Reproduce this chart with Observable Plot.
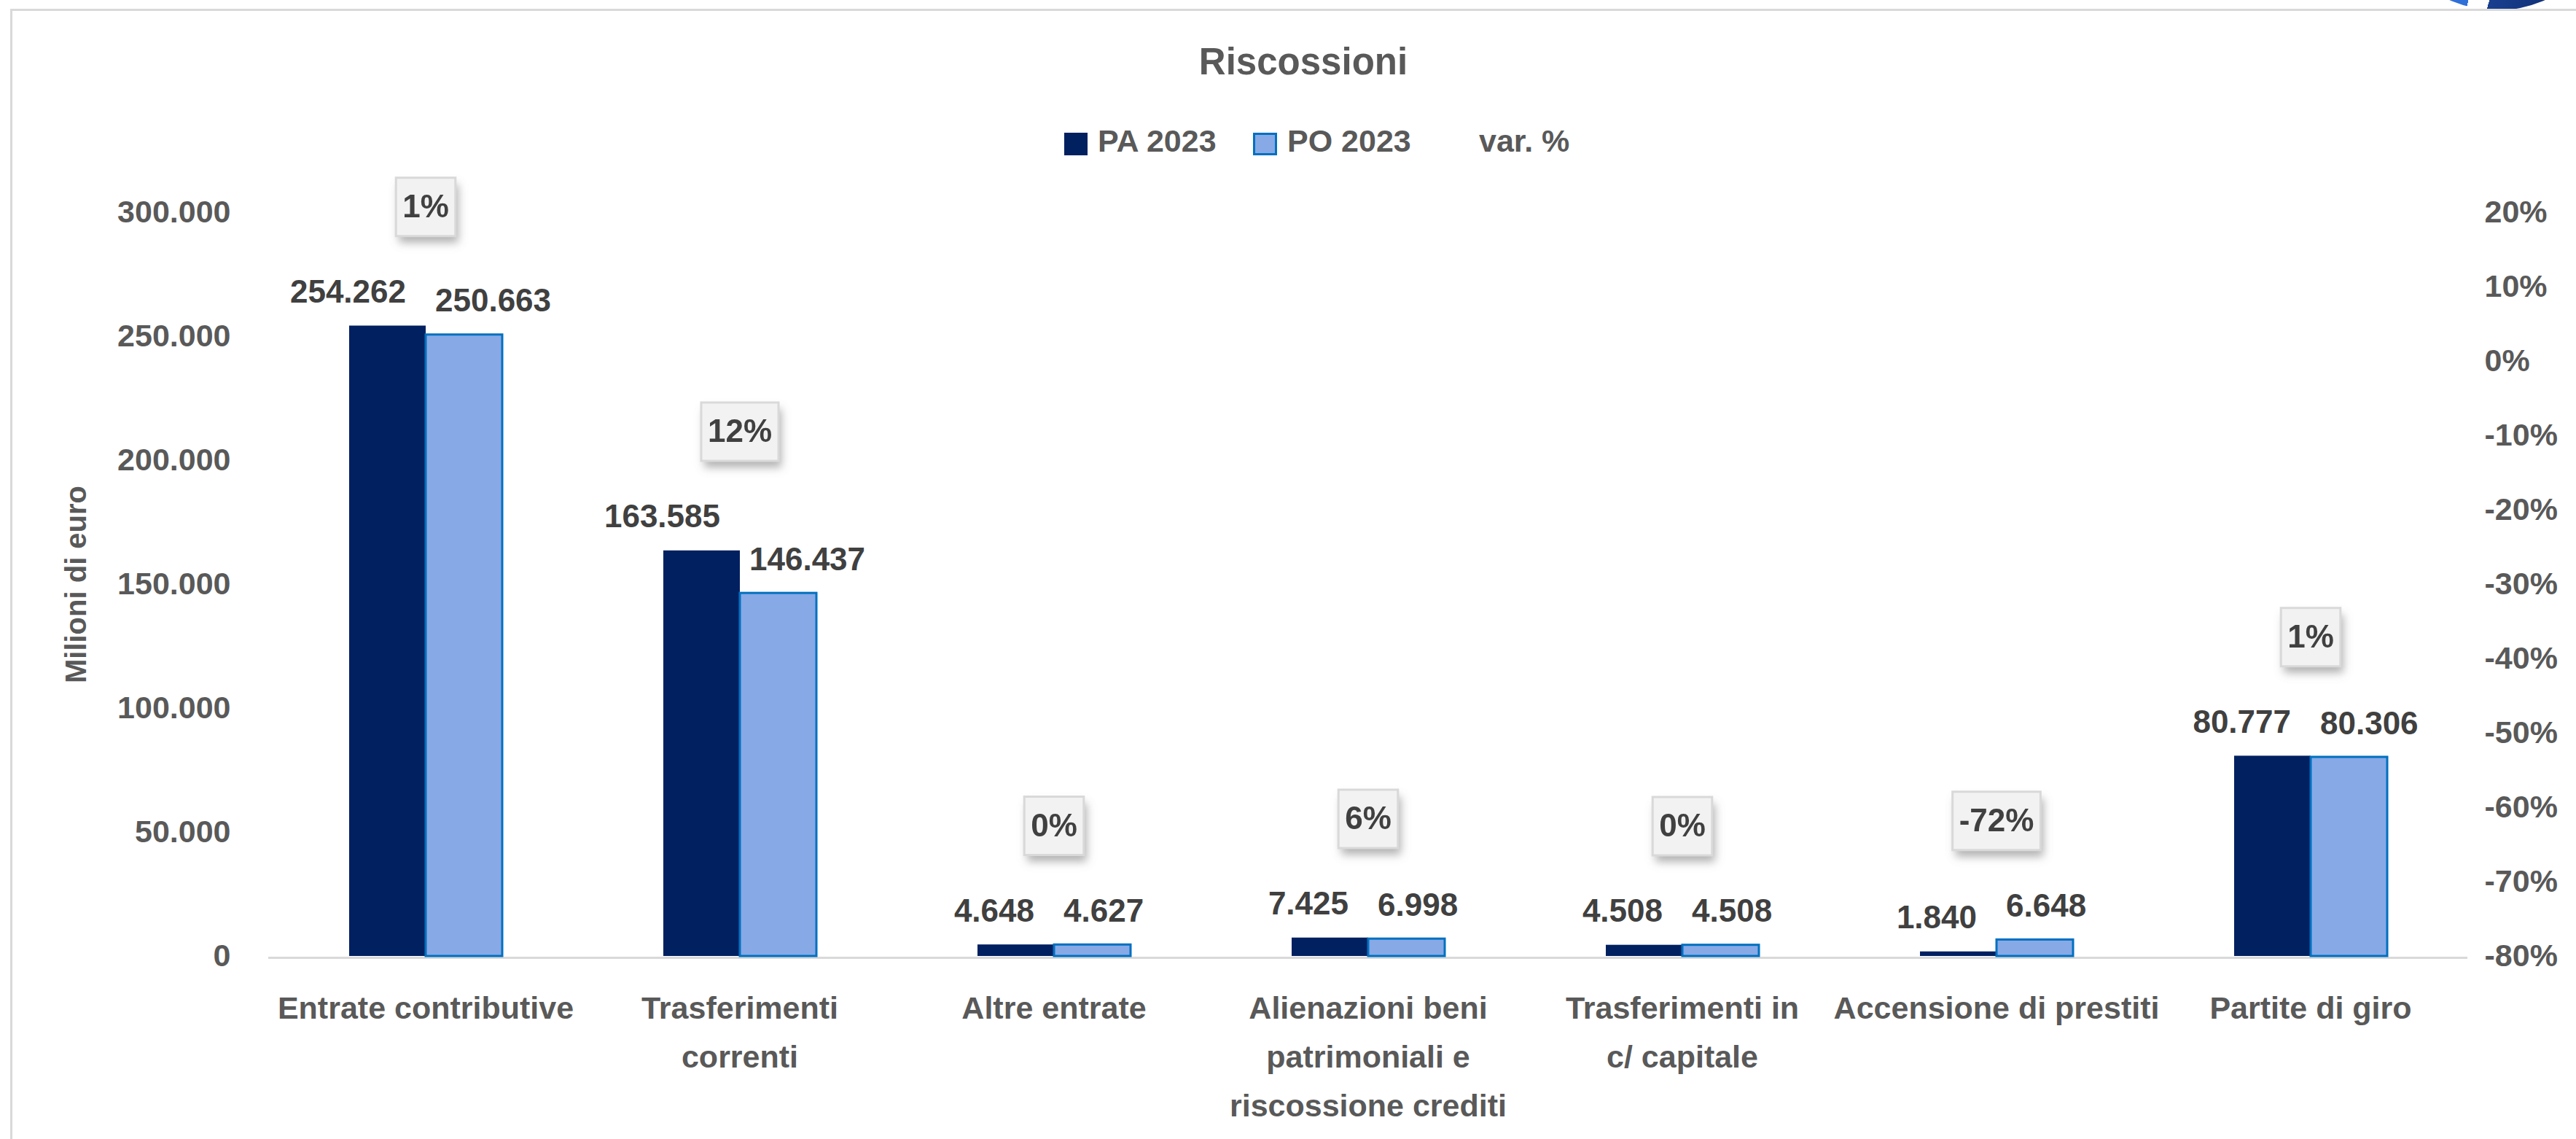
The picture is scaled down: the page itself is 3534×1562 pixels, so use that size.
<!DOCTYPE html>
<html>
<head>
<meta charset="utf-8">
<script src="https://cdn.jsdelivr.net/npm/d3@7"></script>
<script src="https://cdn.jsdelivr.net/npm/@observablehq/plot@0.6"></script>
<style>
  html, body { margin: 0; padding: 0; background: #fff; width: 3534px; height: 1562px; overflow: hidden;
    font-family: "Liberation Sans", Arial, sans-serif; }
  #logoclip { position: absolute; left: 3250px; top: 0; width: 300px; height: 13px; overflow: hidden; }
  #logo { position: absolute; left: 15px; top: -308px; width: 322px; height: 322px; border-radius: 50%;
    background: linear-gradient(105deg, #2F6FD8 0 50%, #fff 50% 57%, #1A3F8F 57%, #05205E 100%); }
  #frame { position: absolute; left: 14px; top: 12px; width: 3600px; height: 1700px;
    border-left: 3px solid #D9D9D9; border-top: 3px solid #D9D9D9; }
  #title { position: absolute; left: 21px; top: 59px; width: 3534px; text-align: center;
    font-size: 51px; line-height: 1; font-weight: bold; color: #595959; }
  .sw { position: absolute; box-sizing: border-box; }
  .lt { position: absolute; top: 172px; font-size: 43px; line-height: 1; font-weight: bold; color: #595959; white-space: nowrap; }
  #chart { position: absolute; left: 0; top: 230px; }
</style>
</head>
<body>
<div id="logoclip"><div id="logo"></div></div>
<div id="frame"></div>
<div id="title">Riscossioni</div>
<div class="sw" style="left:1460px;top:182px;width:32px;height:31px;background:#002060"></div>
<div class="lt" style="left:1506px">PA 2023</div>
<div class="sw" style="left:1719px;top:182px;width:33px;height:31px;background:#87A9E6;border:3px solid #0070C0"></div>
<div class="lt" style="left:1766px">PO 2023</div>
<div class="lt" style="left:2029px">var. %</div>
<div id="chart"></div>
<script>
// ---- Data (milioni di euro) ----
const categories = [
  "Entrate contributive",
  "Trasferimenti correnti",
  "Altre entrate",
  "Alienazioni beni patrimoniali e riscossione crediti",
  "Trasferimenti in c/ capitale",
  "Accensione di prestiti",
  "Partite di giro"
];
const tickLabels = [
  "Entrate contributive",
  "Trasferimenti\ncorrenti",
  "Altre entrate",
  "Alienazioni beni\npatrimoniali e\nriscossione crediti",
  "Trasferimenti in\nc/ capitale",
  "Accensione di prestiti",
  "Partite di giro"
];
const seriesNames = ["PA 2023", "PO 2023"];
const pa2023 = [254262, 163585, 4648, 7425, 4508, 1840, 80777];
const po2023 = [250663, 146437, 4627, 6998, 4508, 6648, 80306];
const varPct = [1, 12, 0, 6, 0, -72, 1];
const leftTicks = [0, 50000, 100000, 150000, 200000, 250000, 300000];
const rightTicks = [0.2, 0.1, 0, -0.1, -0.2, -0.3, -0.4, -0.5, -0.6, -0.7, -0.8];
const yTitle = "Milioni di euro";

// ---- Derived tables ----
const rows = categories.flatMap((c, i) => [
  {cat: c, series: seriesNames[0], value: pa2023[i]},
  {cat: c, series: seriesNames[1], value: po2023[i]}
]);
const varRows = categories.map((c, i) => ({cat: c, label: `${varPct[i]}%`, top: Math.max(pa2023[i], po2023[i])}));

const it = d3.formatLocale({decimal: ",", thousands: ".", grouping: [3], currency: ["", " €"]});
const fmt = it.format(",.0f");
const yMax = 300000;
const pctScale = d3.scaleLinear([-0.8, 0.2], [0, yMax]); // secondary axis
const colors = {"PA 2023": "#002060", "PO 2023": "#87A9E6"};
const FONT = "Liberation Sans, Arial, sans-serif";

// measure label widths so the callout boxes fit their text
const mctx = document.createElement("canvas").getContext("2d");
mctx.font = "bold 44px 'Liberation Sans', Arial, sans-serif";
const halfBox = s => (mctx.measureText(s).width + 18) / 2;
// rectangular symbol: half-width from the dot radius, fixed height
const boxSymbol = {
  draw(ctx, size) {
    const w = Math.sqrt(size / Math.PI), h = 40;
    ctx.moveTo(-w, -h); ctx.lineTo(w, -h); ctx.lineTo(w, h); ctx.lineTo(-w, h); ctx.closePath();
  }
};
const varY = d => d.top + 48000;

const chart = Plot.plot({
  width: 3534,
  height: 1332,
  marginLeft: 366,
  marginRight: 147,
  marginTop: 61,
  marginBottom: 251,
  style: {fontFamily: FONT, fontWeight: "bold", fontSize: "43px", color: "#595959", background: "transparent"},
  fx: {domain: categories, padding: 0, label: null},
  x: {domain: seriesNames, paddingInner: 0, paddingOuter: 1.036, axis: null},
  y: {domain: [0, yMax], label: null},
  r: {type: "linear", domain: [0, 1000], range: [0, 1000]},
  marks: [
    Plot.ruleY([0], {stroke: "#D9D9D9", strokeWidth: 3, dy: 2}),
    Plot.barY(rows, {
      fx: "cat", x: "series", y: "value",
      fill: d => colors[d.series],
      stroke: d => d.series === "PO 2023" ? "#0070C0" : "none",
      strokeWidth: 3
    }),
    // value labels PA (end-aligned near right of dark bar)
    Plot.text(rows.filter(d => d.series === "PA 2023"), {
      fx: "cat", x: "series", y: "value", text: d => fmt(d.value),
      textAnchor: "end", dx: 25, dy: -46,
      fill: "#404040", fontSize: 44, fontWeight: "bold"
    }),
    // value labels PO (start-aligned near left of light bar)
    Plot.text(rows.filter(d => d.series === "PO 2023"), {
      fx: "cat", x: "series", y: "value", text: d => fmt(d.value),
      textAnchor: "start", dx: -40, dy: -46,
      fill: "#404040", fontSize: 44, fontWeight: "bold"
    }),
    // var. % callouts: shadow, box, text
    Plot.dot(varRows, {
      fx: "cat", y: varY, r: d => halfBox(d.label), symbol: boxSymbol,
      fill: "#7F7F7F", fillOpacity: 0.6, stroke: "none", dx: 4, dy: 9,
      ariaDescription: "box-shadow"
    }),
    Plot.dot(varRows, {
      fx: "cat", y: varY, r: d => halfBox(d.label), symbol: boxSymbol,
      fill: "#F2F2F2", stroke: "#D9D9D9", strokeWidth: 3
    }),
    Plot.text(varRows, {
      fx: "cat", y: varY, text: "label",
      fill: "#404040", fontSize: 44, fontWeight: "bold"
    }),
    // axis title (left facet only)
    Plot.text([categories[0]], {
      fx: d => d, frameAnchor: "left", text: () => yTitle, rotate: -90, dx: -263,
      textAnchor: "middle", lineAnchor: "middle",
      fontSize: 40, fill: "#595959", fontWeight: "bold"
    }),
    Plot.axisY({
      anchor: "left", ticks: leftTicks, tickFormat: fmt, tickSize: 0, tickPadding: 52,
      label: null, fontSize: 43
    }),
    Plot.axisY({
      anchor: "right", ticks: rightTicks.map(p => pctScale(p)),
      tickFormat: v => `${Math.round(pctScale.invert(v) * 100)}%`,
      tickSize: 0, tickPadding: 23, label: null, fontSize: 43
    }),
    Plot.axisFx({
      anchor: "bottom", tickSize: 0, tickPadding: 38, label: null,
      tickFormat: d => tickLabels[categories.indexOf(d)],
      lineHeight: 1.56, fontSize: 43
    })
  ]
});

document.getElementById("chart").appendChild(chart);

// soften the callout shadows
const svg = d3.select(chart);
const defs = svg.insert("defs", ":first-child");
defs.append("filter").attr("id", "soft").attr("x", "-30%").attr("y", "-30%").attr("width", "160%").attr("height", "160%")
  .append("feGaussianBlur").attr("stdDeviation", 4);
svg.selectAll("g").filter(function() {
  return this.getAttribute("aria-description") === "box-shadow" ||
    (this.getAttribute("fill") || "").toLowerCase() === "#7f7f7f";
}).attr("filter", "url(#soft)");
</script>
</body>
</html>
